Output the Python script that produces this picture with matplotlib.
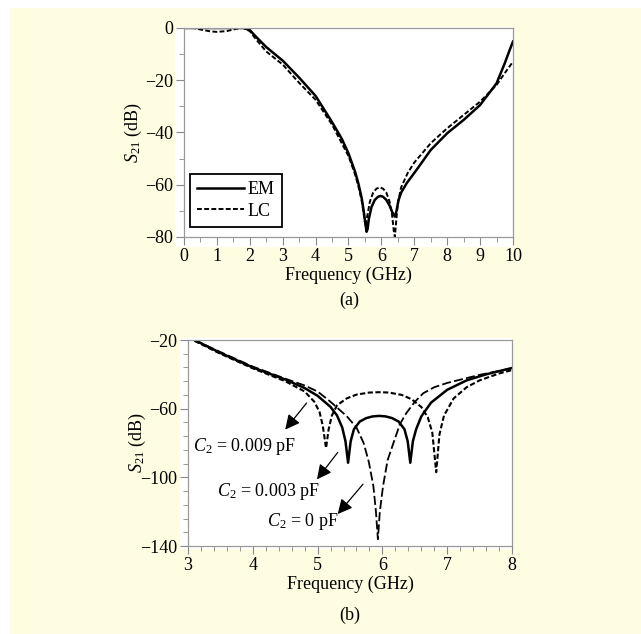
import matplotlib
matplotlib.use("Agg")
import matplotlib.pyplot as plt
from matplotlib.patches import Rectangle
from matplotlib.ticker import MultipleLocator, AutoMinorLocator

plt.rcParams['font.family'] = ['Liberation Serif', 'DejaVu Serif']
plt.rcParams['mathtext.fontset'] = 'custom'
plt.rcParams['mathtext.rm'] = 'Liberation Serif'
plt.rcParams['mathtext.it'] = 'Liberation Serif:italic'
plt.rcParams['font.size'] = 13

# (a) EM vs LC
em_f = [0, 0.5, 1, 1.5, 1.8, 2.0, 2.2, 2.5, 3.0, 3.5, 4.0, 4.5, 4.8, 5.0, 5.2, 5.3,
        5.4, 5.45, 5.5, 5.55, 5.58, 5.62, 5.7, 5.8, 5.9, 5.97, 6.05, 6.15, 6.25, 6.33,
        6.41, 6.46, 6.52, 6.6, 6.77, 7.07, 7.5, 8.0, 8.5, 9.0, 9.5, 9.75, 9.9, 10.0]
em_db = [0, 0, 0, 0, 0, -0.8, -3.5, -7.3, -12.5, -19.0, -26.0, -36, -42.5, -48, -55, -59.5,
         -65, -69, -73.5, -78, -77, -73, -68.5, -65.8, -64.6, -64.3, -64.6, -65.8, -68, -70.5,
         -72.2, -70, -66, -63, -59.4, -54.3, -46.7, -40.3, -35.2, -29.5, -21.2, -13.5, -8.4, -5.2]

lc_f = [0, 0.3, 0.5, 0.8, 1.0, 1.3, 1.6, 1.8, 2.0, 2.2, 2.5, 3.0, 3.5, 4.0, 4.5, 5.0, 5.2,
        5.3, 5.4, 5.45, 5.5, 5.53, 5.57, 5.65, 5.75, 5.85, 5.95, 6.05, 6.15, 6.25, 6.32,
        6.38, 6.41, 6.45, 6.5, 6.6, 6.8, 7.0, 7.5, 8.0, 8.5, 9.0, 9.5, 9.75, 10.0]
lc_db = [0, 0, -0.6, -1.3, -1.5, -1.2, -0.3, 0, -1.2, -4.5, -9, -14, -21, -27.5, -37, -49, -56,
         -60.5, -66, -70, -74.5, -76, -72, -66.5, -63, -61.5, -61, -61.5, -63, -66.5, -71,
         -78, -80, -74, -67, -61, -55.5, -51.5, -44.1, -38.4, -33.3, -28.2, -21.8, -17.3, -12.9]

# (b) C2 sweep
c9_f = [3.1, 3.5, 4.0, 4.5, 4.8, 4.95, 5.03, 5.08, 5.13, 5.17, 5.22, 5.3, 5.45, 5.6, 5.8,
        5.95, 6.1, 6.3, 6.45, 6.6, 6.7, 6.77, 6.83, 6.88, 6.95, 7.1, 7.3, 7.5, 7.8, 8.0]
c9_db = [-20.5, -28, -36.5, -44, -50, -56, -62, -70, -83, -72, -64, -58, -54, -51.8, -50.6,
         -50.4, -50.6, -52, -54.5, -59, -65, -74, -97, -75, -64, -54, -47.5, -43.5, -39.5, -37.5]

c3_f = [3.1, 3.5, 4.0, 4.5, 4.8, 5.0, 5.2, 5.3, 5.38, 5.43, 5.47, 5.51, 5.56, 5.65, 5.75,
        5.85, 5.95, 6.05, 6.15, 6.25, 6.34, 6.39, 6.43, 6.47, 6.52, 6.6, 6.75, 7.0, 7.3,
        7.6, 8.0]
c3_db = [-20, -27.5, -36, -43, -48, -52.5, -59, -64, -71, -79, -91.5, -79, -72, -67.5, -65.5,
         -64.5, -64.2, -64.5, -65.5, -67.5, -72, -79, -91.5, -79, -72, -64.5, -56.5, -49, -43.5,
         -40, -36.3]

c0_f = [3.1, 3.5, 4.0, 4.5, 4.8, 5.0, 5.19, 5.45, 5.6, 5.71, 5.79, 5.86, 5.9, 5.93, 5.96,
        6.01, 6.08, 6.17, 6.27, 6.37, 6.5, 6.63, 6.8, 7.0, 7.5, 8.0]
c0_db = [-20, -27, -35.5, -42.5, -46.5, -50, -55.7, -64.4, -71, -80, -91, -105, -120, -136,
         -120, -105, -90, -80, -69, -62.5, -56, -51, -47.5, -45, -40.3, -36.5]

c_labels = ["$C_2$ = 0.009 pF", "$C_2$ = 0.003 pF", "$C_2$ = 0 pF"]

fig = plt.figure(figsize=(6.41, 6.34), dpi=100)
fig.patch.set_facecolor('white')
fig.patches.append(Rectangle((0.0156, 0), 0.9844, 0.9874, transform=fig.transFigure,
                             facecolor='#FEFDE2', edgecolor='none', zorder=-20))
fig.patches.append(Rectangle((0.273, 0.6104), 0.527, 0.347, transform=fig.transFigure,
                             facecolor='white', edgecolor='none', zorder=-10))
fig.patches.append(Rectangle((0.2808, 0.134), 0.518, 0.3328, transform=fig.transFigure,
                             facecolor='white', edgecolor='none', zorder=-10))

ax1 = fig.add_axes([0.2870, 0.6262, 0.5133, 0.3297])
ax2 = fig.add_axes([0.2933, 0.1388, 0.5055, 0.3249])

for ax in (ax1, ax2):
    for s in ax.spines.values():
        s.set_color('#999999')
        s.set_linewidth(0.9)
    ax.tick_params(which='both', direction='out', color='#888888', top=False, right=False,
                   labelsize=13, pad=2)
    ax.tick_params(which='major', length=6)
    ax.tick_params(which='minor', length=3.5)

ax1.plot(em_f, em_db, color='black', lw=1.8, label='EM')
ax1.plot(lc_f, lc_db, color='black', lw=1.4, ls=(0, (2.5, 1.2)), label='LC')
ax1.set_xlim(0, 10)
ax1.set_ylim(-80, 0)
ax1.xaxis.set_major_locator(MultipleLocator(1))
ax1.xaxis.set_minor_locator(AutoMinorLocator(2))
ax1.yaxis.set_major_locator(MultipleLocator(20))
ax1.yaxis.set_minor_locator(AutoMinorLocator(2))
ax1.set_xlabel('Frequency (GHz)', labelpad=1)
ax1.set_ylabel('$S_{21}$ (dB)')
ax1.yaxis.set_label_coords(-0.12, 0.5)
leg = ax1.legend(loc='lower left', bbox_to_anchor=(0.018, 0.048), borderaxespad=0,
                 fancybox=False, framealpha=1, edgecolor='black', handlelength=2.6,
                 handletextpad=0.2, borderpad=0.4, labelspacing=0.25, fontsize=13)
leg.get_frame().set_linewidth(1.3)

ax2.plot(c9_f, c9_db, color='black', lw=1.5, ls=(0, (2.5, 1.2)))
ax2.plot(c3_f, c3_db, color='black', lw=1.8)
ax2.plot(c0_f, c0_db, color='black', lw=1.3, ls=(0, (5, 1.8)))
ax2.set_xlim(3, 8)
ax2.set_ylim(-140, -20)
ax2.xaxis.set_major_locator(MultipleLocator(1))
ax2.xaxis.set_minor_locator(AutoMinorLocator(5))
ax2.yaxis.set_major_locator(MultipleLocator(40, offset=20))
ax2.yaxis.set_minor_locator(AutoMinorLocator(5))
ax2.set_xlabel('Frequency (GHz)', labelpad=1)
ax2.set_ylabel('$S_{21}$ (dB)')
ax2.yaxis.set_label_coords(-0.125, 0.5)

arrow_tails = [(4.83, -56.7), (5.31, -85.5), (5.70, -104)]
arrow_heads = [(4.50, -72.2), (4.99, -101.2), (5.31, -121.4)]
text_pos = [(3.08, -82), (3.45, -108), (4.22, -126)]
for lab, tail, head, tp in zip(c_labels, arrow_tails, arrow_heads, text_pos):
    ax2.annotate('', xy=head, xytext=tail,
                 arrowprops=dict(arrowstyle='-|>', color='black', lw=0.9,
                                 mutation_scale=22, shrinkA=0, shrinkB=0))
    ax2.text(tp[0], tp[1], lab, ha='left', va='center', fontsize=13)

fig.text(0.5445, 0.527, '(a)', ha='center', va='center', fontsize=13)
fig.text(0.546, 0.030, '(b)', ha='center', va='center', fontsize=13)

fig.savefig('out.png', dpi=100, facecolor=fig.get_facecolor())
